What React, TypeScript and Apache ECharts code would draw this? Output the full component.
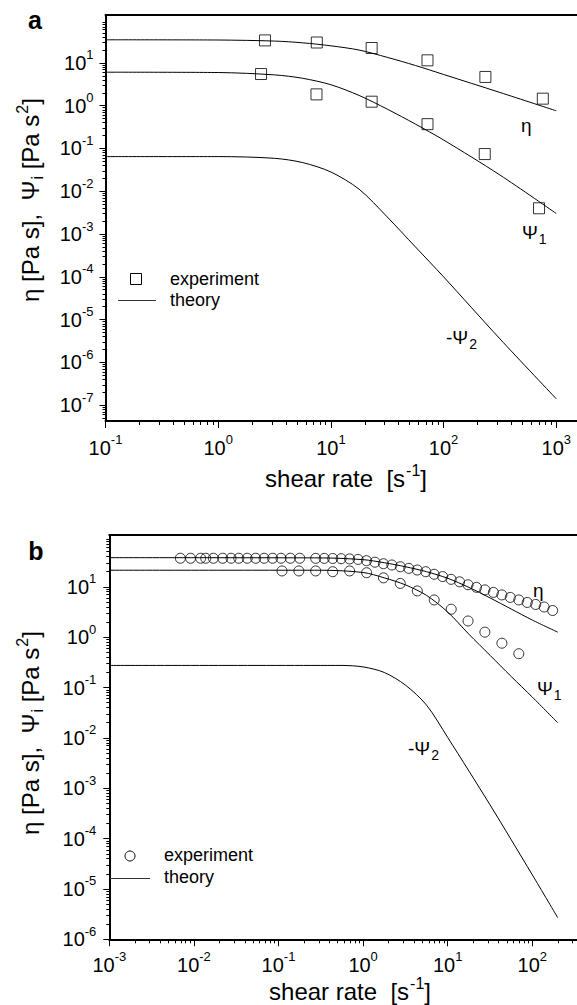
import { useEffect, useRef } from 'react';
import * as echarts from 'echarts';

const FONT = "'Liberation Sans', Arial, Helvetica, sans-serif";

// ---------------- Panel a (real units: shear rate [1/s], property) ----------------
const aEtaExpRate = [2.6, 7.5, 23, 72, 235, 760];
const aEtaExp = [33.6, 30.0, 22.3, 11.5, 4.7, 1.46];
const aPsi1ExpRate = [2.4, 7.45, 23, 72, 232, 703];
const aPsi1Exp = [5.5, 1.84, 1.24, 0.37, 0.074, 0.004];

const aEtaThRate = [0.1, 1, 3.162, 5.623, 10, 17.78, 31.62, 56.23, 100, 316.2, 1000];
const aEtaTh = [34.7, 34.3, 32.4, 29.5, 25.1, 20.0, 13.5, 8.71, 5.37, 2.04, 0.759];
const aPsi1ThRate = [0.1, 1, 3.162, 5.623, 10, 17.78, 31.62, 56.23, 100, 316.2, 1000];
const aPsi1Th = [6.07, 5.96, 5.25, 4.37, 3.09, 1.74, 0.832, 0.372, 0.158, 0.024, 0.00302];
const aPsi2ThRate = [0.1, 1, 3.162, 5.623, 10, 17.78, 31.62, 56.23, 100, 316.2, 1000];
const aPsi2Th = [0.0646, 0.0646, 0.0589, 0.0468, 0.0282, 0.0112, 0.00251, 5.01e-4, 1.0e-4, 3.55e-6, 1.41e-7];

const aXTickExp = [-1, 0, 1, 2, 3];
const aYTickExp = [-7, -6, -5, -4, -3, -2, -1, 0, 1];

// ---------------- Panel b ----------------
const bEtaExpRate = [
  0.00692, 0.00912, 0.012, 0.0138, 0.017, 0.0219, 0.0275, 0.0339, 0.0427, 0.0537, 0.0676, 0.0851, 0.107, 0.138, 0.178,
  0.275, 0.347, 0.437, 0.55, 0.692, 0.871, 1.096, 1.38, 1.738, 2.188, 2.754, 3.467, 4.365, 5.495, 6.918, 8.71, 10.96,
  13.8, 17.38, 21.88, 27.54, 34.67, 43.65, 54.95, 69.18, 87.1, 109.6, 138.0, 173.8,
];
const bEtaExp = [
  37, 37, 37, 37, 37, 37, 37, 37, 37, 37, 37, 37, 37, 37, 37,
  36.8, 36.8, 36.6, 36.3, 35.9, 35.1, 33.1, 30.9, 28.8, 27.2, 25.1, 23.3, 21.6, 20.0, 17.8, 16.0, 14.1,
  12.6, 11.0, 9.77, 8.71, 7.76, 6.92, 6.17, 5.5, 4.9, 4.47, 3.98, 3.39,
];
const bPsi1ExpRate = [0.11, 0.174, 0.275, 0.437, 0.692, 1.1, 1.74, 2.75, 4.37, 6.92, 11.0, 17.4, 27.5, 43.7, 69.2];
const bPsi1Exp = [20.7, 20.7, 20.7, 20.0, 20.7, 19.1, 15.1, 11.7, 8.3, 5.5, 3.6, 2.1, 1.26, 0.76, 0.47];

const bThRate = [0.001, 0.3162, 1, 1.778, 3.162, 5.623, 10, 17.78, 31.62, 56.23, 100, 199.5];
const bEtaTh = [38.0, 37.6, 34.7, 30.2, 25.1, 20.0, 14.8, 9.77, 6.03, 3.63, 2.19, 1.26];
const bPsi1Th = [21.4, 21.4, 19.3, 15.1, 10.96, 6.76, 3.16, 1.148, 0.437, 0.166, 0.0646, 0.02];
const bPsi2ThRate = [0.001, 0.5623, 1, 1.778, 3.162, 5.623, 10, 31.62, 100, 199.5];
const bPsi2Th = [0.275, 0.275, 0.257, 0.1995, 0.112, 0.0447, 0.0102, 4.68e-4, 1.905e-5, 2.69e-6];

const bXTickExp = [-3, -2, -1, 0, 1, 2];
const bYTickExp = [-6, -5, -4, -3, -2, -1, 0, 1];

// ---------------- helpers ----------------
const lg = (v: number) => Math.log10(v);
const pts = (xs: number[], ys: number[]) => xs.map((x, i) => [lg(x), lg(ys[i])]);

function minorTicks(lo: number, hi: number) {
  const out: number[] = [];
  for (let n = Math.floor(lo) - 1; n <= Math.ceil(hi); n++) {
    for (let k = 2; k <= 9; k++) {
      const v = n + Math.log10(k);
      if (v > lo && v < hi) out.push(v);
    }
  }
  return out;
}

const supRich = {
  b: { fontSize: 20, fontFamily: FONT, color: '#000' },
  s: { fontSize: 13, fontFamily: FONT, color: '#000', padding: [0, 0, 16, 0] },
};
const expFmt = (v: number) => `{b|10}{s|${Math.round(v)}}`;

const black = '#000';

function axesFor(grid: number, xr: number[], yr: number[], xt: number[], yt: number[], xm: number, ym: number) {
  const x = [
    {
      gridIndex: grid, type: 'value', min: xr[0], max: xr[1], position: 'bottom',
      axisLine: { show: true, onZero: false, lineStyle: { color: black, width: 2 } },
      axisTick: { show: true, inside: false, length: 7, customValues: xt, lineStyle: { color: black, width: 1 } },
      axisLabel: { show: true, customValues: xt, margin: xm, formatter: expFmt, rich: supRich },
      splitLine: { show: false },
    },
    {
      gridIndex: grid, type: 'value', min: xr[0], max: xr[1], position: 'bottom',
      axisLine: { show: false, onZero: false },
      axisTick: { show: true, inside: false, length: 4, customValues: minorTicks(xr[0], xr[1]), lineStyle: { color: black, width: 1 } },
      axisLabel: { show: false },
      splitLine: { show: false },
    },
    {
      gridIndex: grid, type: 'value', min: xr[0], max: xr[1], position: 'top',
      axisLine: { show: true, onZero: false, lineStyle: { color: black, width: 2 } },
      axisTick: { show: false },
      axisLabel: { show: false },
      splitLine: { show: false },
    },
  ];
  const y = [
    {
      gridIndex: grid, type: 'value', min: yr[0], max: yr[1], position: 'left',
      axisLine: { show: true, onZero: false, lineStyle: { color: black, width: 2 } },
      axisTick: { show: true, inside: false, length: 6, customValues: yt, lineStyle: { color: black, width: 1 } },
      axisLabel: { show: true, customValues: yt, margin: ym, formatter: expFmt, rich: supRich },
      splitLine: { show: false },
    },
    {
      gridIndex: grid, type: 'value', min: yr[0], max: yr[1], position: 'left',
      axisLine: { show: false, onZero: false },
      axisTick: { show: true, inside: false, length: 3, customValues: minorTicks(yr[0], yr[1]), lineStyle: { color: black, width: 1 } },
      axisLabel: { show: false },
      splitLine: { show: false },
    },
  ];
  return { x, y };
}

const A_X = [-1, 3.184];
const A_Y = [-7.37, 2.12];
const B_X = [-3, 2.528];
const B_Y = [-6, 2.03];

const aAxes = axesFor(0, A_X, A_Y, aXTickExp, aYTickExp, 12, 12);
const bAxes = axesFor(1, B_X, B_Y, bXTickExp, bYTickExp, 11, 13);

const theory = (name: string, data: number[][], xi: number, yi: number) => ({
  name, type: 'line', xAxisIndex: xi, yAxisIndex: yi, data, showSymbol: false, symbol: 'none',
  smooth: 0.3, lineStyle: { color: black, width: 1 }, z: 3,
});
const exper = (name: string, data: number[][], xi: number, yi: number, symbol: string, size: number) => ({
  name, type: 'scatter', xAxisIndex: xi, yAxisIndex: yi, data, symbol, symbolSize: size,
  itemStyle: { color: 'rgba(0,0,0,0)', borderColor: black, borderWidth: 1 }, z: 4,
});

const lblRich = {
  g: { fontSize: 19, fontFamily: FONT, color: black },
  sub: { fontSize: 14, fontFamily: FONT, color: black, padding: [13, 0, 0, 1] },
  t: { fontSize: 24, fontFamily: FONT, color: black },
  ts: { fontSize: 16, fontFamily: FONT, color: black, padding: [15, 0, 0, 1] },
  tp: { fontSize: 16, fontFamily: FONT, color: black, padding: [0, 0, 15, 1] },
};

const txt = (x: number, y: number, text: string, opts: any = {}) => ({
  type: 'text', x, y, z: 10,
  style: { text, rich: lblRich, fontFamily: FONT, fill: black, align: 'left', verticalAlign: 'middle', ...opts },
});

const yTitle = '{t|η [Pa s],\u00a0\u00a0Ψ}{ts|i}{t|\u00a0[Pa s}{tp|2}{t|]}';
const xTitle = '{t|shear rate\u00a0\u00a0[s}{tp|-1}{t|]}';

const option: any = {
  animation: false,
  backgroundColor: '#fff',
  textStyle: { fontFamily: FONT },
  grid: [
    { left: 105.5, top: 15, width: 471.5, height: 406 },
    { left: 109.3, top: 535, width: 467.7, height: 404.3 },
  ],
  xAxis: [...aAxes.x, ...bAxes.x],
  yAxis: [...aAxes.y, ...bAxes.y],
  series: [
    theory('theory', pts(aEtaThRate, aEtaTh), 0, 0),
    theory('theory', pts(aPsi1ThRate, aPsi1Th), 0, 0),
    theory('theory', pts(aPsi2ThRate, aPsi2Th), 0, 0),
    exper('experiment', pts(aEtaExpRate, aEtaExp), 0, 0, 'rect', 11),
    exper('experiment', pts(aPsi1ExpRate, aPsi1Exp), 0, 0, 'rect', 11),
    theory('theory b', pts(bThRate, bEtaTh), 3, 2),
    theory('theory b', pts(bThRate, bPsi1Th), 3, 2),
    theory('theory b', pts(bPsi2ThRate, bPsi2Th), 3, 2),
    exper('experiment b', pts(bEtaExpRate, bEtaExp), 3, 2, 'circle', 10),
    exper('experiment b', pts(bPsi1ExpRate, bPsi1Exp), 3, 2, 'circle', 10),
  ],
  graphic: [
    { type: 'text', x: 35, y: 20, z: 10, style: { text: 'a', font: `bold 25px ${FONT}`, fill: black, align: 'center', verticalAlign: 'middle' } },
    { type: 'text', x: 36, y: 551, z: 10, style: { text: 'b', font: `bold 25px ${FONT}`, fill: black, align: 'center', verticalAlign: 'middle' } },
    { type: 'text', x: 30, y: 200, rotation: Math.PI / 2, z: 10, style: { text: yTitle, rich: lblRich, fill: black, align: 'center', verticalAlign: 'middle' } },
    { type: 'text', x: 30, y: 733, rotation: Math.PI / 2, z: 10, style: { text: yTitle, rich: lblRich, fill: black, align: 'center', verticalAlign: 'middle' } },
    { type: 'text', x: 346, y: 478, z: 10, style: { text: xTitle, rich: lblRich, fill: black, align: 'center', verticalAlign: 'middle' } },
    { type: 'text', x: 350, y: 991, z: 10, style: { text: xTitle, rich: lblRich, fill: black, align: 'center', verticalAlign: 'middle' } },
    txt(521, 125, '{g|η}'),
    txt(522, 232, '{g|Ψ}{sub|1}'),
    txt(446, 337, '{g|-Ψ}{sub|2}'),
    txt(533, 590, '{g|η}'),
    txt(537, 688, '{g|Ψ}{sub|1}'),
    txt(408, 748, '{g|-Ψ}{sub|2}'),
    { type: 'rect', z: 10, shape: { x: 130.5, y: 273.5, width: 11, height: 11 }, style: { fill: 'none', stroke: black, lineWidth: 1 } },
    txt(170, 279, 'experiment', { fontSize: 18 }),
    { type: 'line', z: 10, shape: { x1: 118, y1: 300.5, x2: 156, y2: 300.5 }, style: { stroke: '#333', lineWidth: 1 } },
    txt(170, 300, 'theory', { fontSize: 18 }),
    { type: 'circle', z: 10, shape: { cx: 130, cy: 856, r: 5 }, style: { fill: 'none', stroke: black, lineWidth: 1 } },
    txt(164, 855, 'experiment', { fontSize: 18 }),
    { type: 'line', z: 10, shape: { x1: 110, y1: 878.5, x2: 150, y2: 878.5 }, style: { stroke: '#333', lineWidth: 1 } },
    txt(164, 877, 'theory', { fontSize: 18 }),
  ],
};

export default function App() {
  const ref = useRef<HTMLDivElement>(null);
  useEffect(() => {
    const chart = echarts.init(ref.current as HTMLDivElement, null, { renderer: 'svg' });
    chart.setOption(option);
    return () => chart.dispose();
  }, []);
  return (
    <div
      ref={ref}
      style={{ position: 'absolute', left: 0, top: 0, width: 577, height: 1005, background: '#fff' }}
    />
  );
}
